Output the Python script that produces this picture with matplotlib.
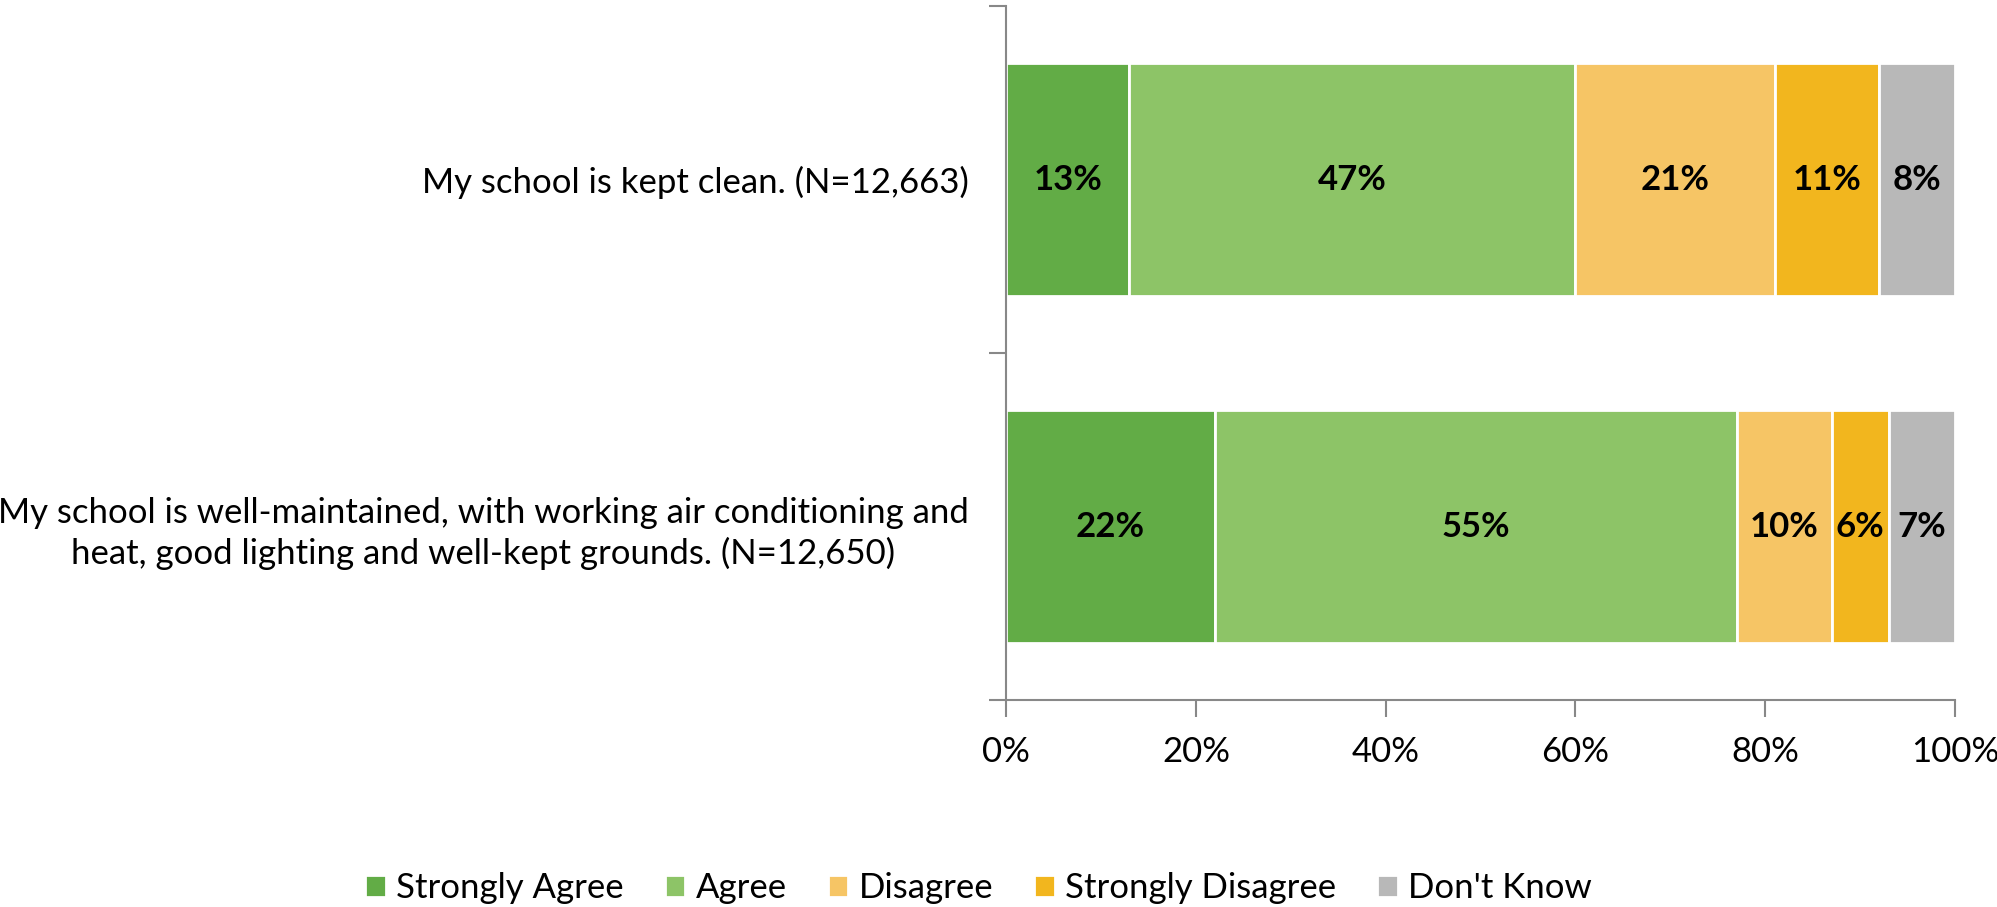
import matplotlib
matplotlib.use("Agg")
import matplotlib.pyplot as plt
from matplotlib.ticker import PercentFormatter
import numpy as np

categories = [
    "My school is kept clean. (N=12,663)",
    "My school is well-maintained, with working air conditioning and\nheat, good lighting and well-kept grounds. (N=12,650)",
]
series_names = ["Strongly Agree", "Agree", "Disagree", "Strongly Disagree", "Don't Know"]
values = {
    "Strongly Agree": [13, 22],
    "Agree": [47, 55],
    "Disagree": [21, 10],
    "Strongly Disagree": [11, 6],
    "Don't Know": [8, 7],
}
colors = ["#62AC46", "#8DC467", "#F6C565", "#F2B61E", "#B8B8B8"]
xticks = [0, 20, 40, 60, 80, 100]

plt.rcParams["font.family"] = ["Lato", "DejaVu Sans"]
fs = 25

fig = plt.figure(figsize=(19.97, 9.07), dpi=100)
ax = fig.add_axes([0.5038, 0.228, 0.979 - 0.5038, 0.9934 - 0.228])

y = np.arange(len(categories))
left = np.zeros(len(categories))
for name, c in zip(series_names, colors):
    v = np.array(values[name], dtype=float)
    ax.barh(y, v, left=left, height=0.67, color=c, edgecolor="white", linewidth=2, label=name)
    for yi, (l, w) in enumerate(zip(left, v)):
        ax.text(l + w / 2, yi, f"{int(w)}%", ha="center", va="center", fontsize=fs,
                fontweight="bold", color="black")
    left += v

ax.set_xlim(0, 100)
ax.set_ylim(len(categories) - 0.5, -0.5)
ax.set_xticks(xticks)
ax.xaxis.set_major_formatter(PercentFormatter(decimals=0))
ax.set_yticks([-0.5, 0.5, 1.5])
ax.set_yticklabels([])
ax.set_yticks(y, minor=True)
ax.set_yticklabels(categories, minor=True, fontsize=fs, linespacing=1.3)
for lab in ax.get_yticklabels(minor=True):
    lab.set_multialignment("center")
ax.tick_params(axis="y", which="minor", length=0, pad=27)
ax.tick_params(axis="y", which="major", length=12, color="#888888", width=1.5)
ax.tick_params(axis="x", length=12, color="#888888", width=1.5, labelsize=fs, pad=14)
for s in ["top", "right"]:
    ax.spines[s].set_visible(False)
for s in ["left", "bottom"]:
    ax.spines[s].set_color("#888888")
    ax.spines[s].set_linewidth(1.5)

fig.legend(loc="center", bbox_to_anchor=(0.49, 0.021), ncol=5, frameon=False, fontsize=fs,
           handlelength=0.6, handleheight=0.6, handletextpad=0.3, columnspacing=1.17)
fig.savefig("out.png", dpi=100)
